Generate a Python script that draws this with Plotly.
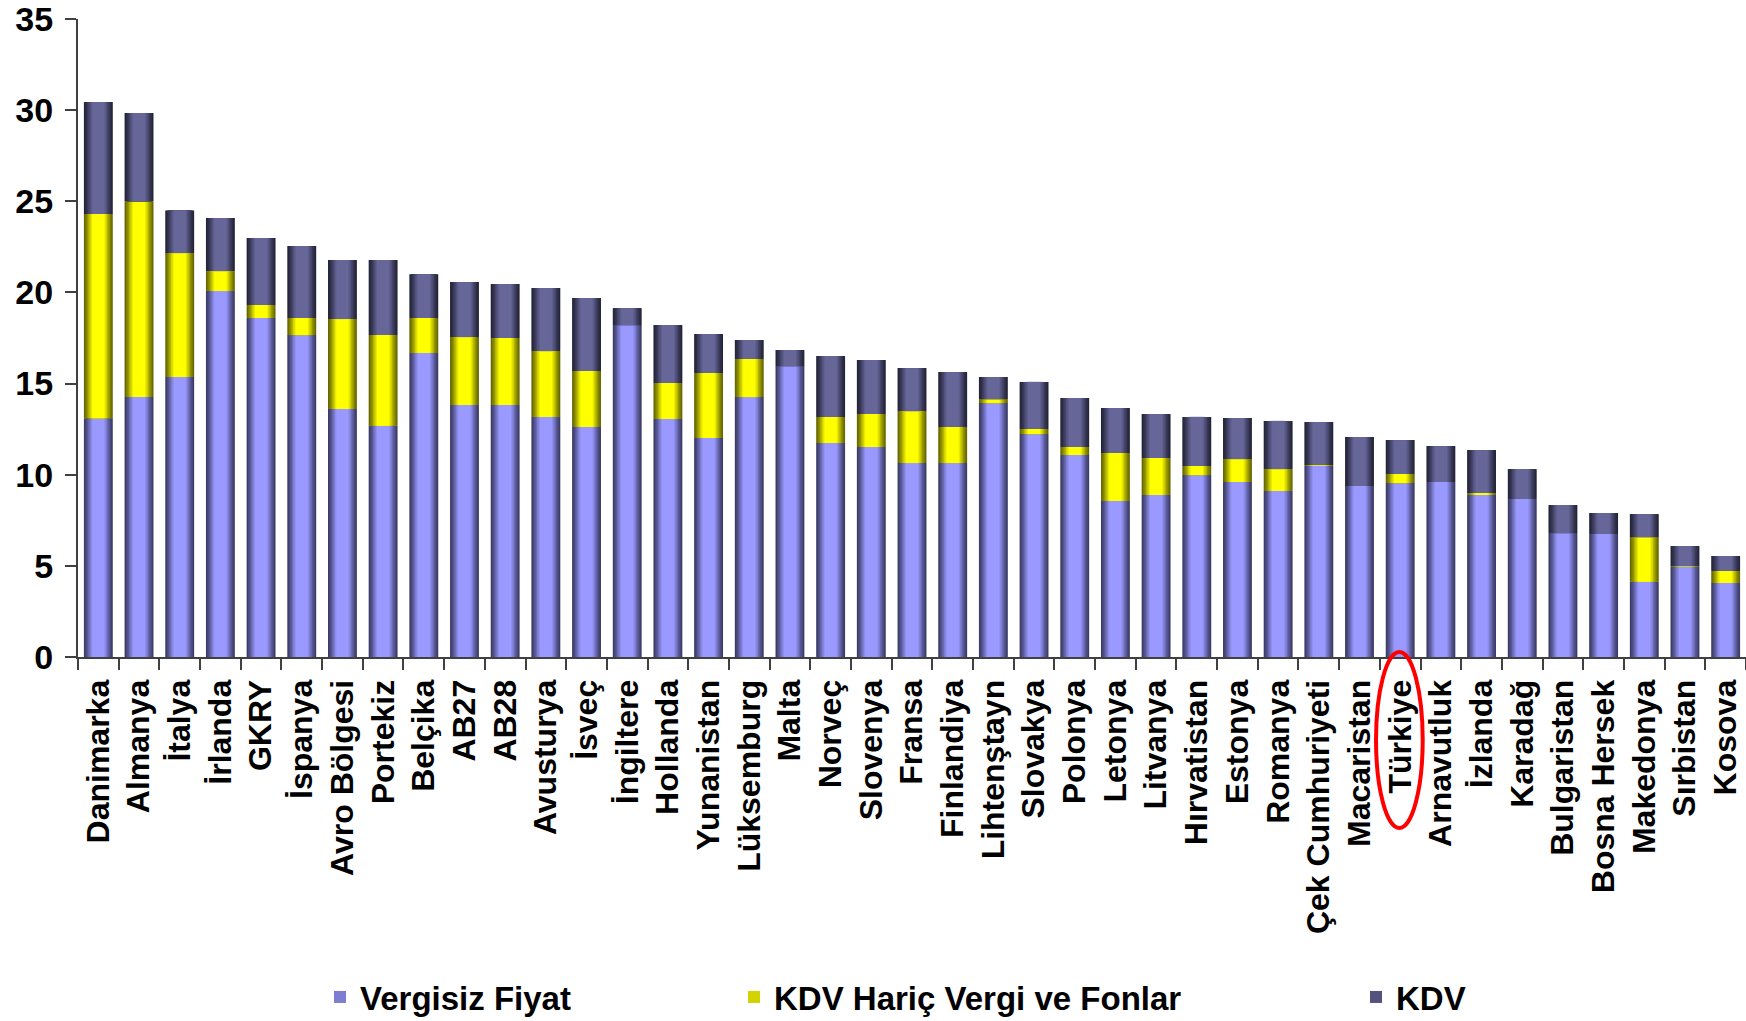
import plotly.graph_objects as go

countries = ["Danimarka", "Almanya", "İtalya", "İrlanda", "GKRY", "İspanya", "Avro Bölgesi",
             "Portekiz", "Belçika", "AB27", "AB28", "Avusturya", "İsveç", "İngiltere",
             "Hollanda", "Yunanistan", "Lüksemburg", "Malta", "Norveç", "Slovenya", "Fransa",
             "Finlandiya", "Lihtenştayn", "Slovakya", "Polonya", "Letonya", "Litvanya",
             "Hırvatistan", "Estonya", "Romanya", "Çek Cumhuriyeti", "Macaristan", "Türkiye",
             "Arnavutluk", "İzlanda", "Karadağ", "Bulgaristan", "Bosna Hersek", "Makedonya",
             "Sırbistan", "Kosova"]

vergisiz_fiyat = [13.10, 14.26, 15.36, 20.08, 18.60, 17.66, 13.60, 12.69, 16.68, 13.82, 13.82,
                  13.17, 12.62, 18.21, 13.06, 12.01, 14.26, 15.96, 11.74, 11.52, 10.64, 10.64,
                  13.93, 12.23, 11.08, 8.56, 8.89, 9.98, 9.60, 9.11, 10.48, 9.38, 9.54, 9.60,
                  8.89, 8.67, 6.80, 6.75, 4.13, 4.94, 4.06]

kdv_haric_vergi = [11.20, 10.74, 6.80, 1.09, 0.71, 0.94, 4.94, 4.97, 1.92, 3.73, 3.68, 3.61,
                   3.07, 0.00, 1.97, 3.57, 2.09, 0.00, 1.43, 1.81, 2.85, 1.98, 0.22, 0.28,
                   0.44, 2.63, 2.03, 0.50, 1.26, 1.20, 0.05, 0.00, 0.50, 0.00, 0.11, 0.00,
                   0.00, 0.00, 2.45, 0.05, 0.66]

kdv = [6.15, 4.84, 2.34, 2.91, 3.67, 3.95, 3.24, 4.12, 2.40, 3.02, 2.96, 3.46, 4.00, 0.93,
       3.18, 2.14, 1.04, 0.88, 3.34, 2.96, 2.36, 3.01, 1.21, 2.58, 2.69, 2.47, 2.41, 2.69,
       2.25, 2.64, 2.36, 2.69, 1.86, 1.97, 2.35, 1.64, 1.54, 1.15, 1.26, 1.10, 0.82]

series_names = ["Vergisiz Fiyat", "KDV Hariç Vergi ve Fonlar", "KDV"]
highlight = "Türkiye"

# colour ramps (edge -> centre) to imitate the cylinder shading
edge_colors = [(60, 60, 104), (104, 104, 0), (36, 36, 58)]
centre_colors = [(153, 153, 255), (255, 255, 0), (102, 102, 153)]
layer_widths = [0.71, 0.64, 0.57, 0.50, 0.43, 0.36, 0.30]
layer_t = [0.0, 0.15, 0.3, 0.5, 0.7, 0.87, 1.0]


def mix(c1, c2, t):
    return "rgb({},{},{})".format(*[round(a + (b - a) * t) for a, b in zip(c1, c2)])


FONT = "Liberation Sans, Arial, sans-serif"

bases = [
    [0.0] * len(countries),
    list(vergisiz_fiyat),
    [a + b for a, b in zip(vergisiz_fiyat, kdv_haric_vergi)],
]
values = [vergisiz_fiyat, kdv_haric_vergi, kdv]
legends = ["legend", "legend2", "legend3"]

fig = go.Figure()
for s in range(3):
    for li, (w, t) in enumerate(zip(layer_widths, layer_t)):
        fig.add_trace(go.Bar(
            x=countries, y=values[s], base=bases[s], width=w,
            name=series_names[s],
            marker=dict(color=mix(edge_colors[s], centre_colors[s], t), line=dict(width=0)),
            showlegend=(li == 4), legend=legends[s],
            hoverinfo="skip" if li != 0 else None,
        ))

N = len(countries)
idx = countries.index(highlight)
cx = (idx + 0.5) / N
fig.add_shape(type="circle", xref="paper", yref="paper",
              x0=cx - 0.0145, x1=cx + 0.0135, y0=0.008, y1=-0.268,
              line=dict(color="#ff0000", width=4))

fig.add_annotation(text="Kaynak: Eurostat", xref="paper", yref="paper",
                   x=-0.025, y=-0.560, xanchor="left", yanchor="top", showarrow=False,
                   font=dict(family=FONT, size=30, color="#222222"))

leg_common = dict(orientation="h", yref="container", yanchor="middle", y=1 - 997 / 1021,
                  xanchor="left", bgcolor="rgba(0,0,0,0)",
                  font=dict(family=FONT, size=33, color="#000000", weight="bold"))

fig.update_layout(
    width=1746, height=1021,
    margin=dict(l=78, r=0, t=19, b=364, autoexpand=False),
    paper_bgcolor="white", plot_bgcolor="white",
    barmode="overlay",
    legend=dict(x=(320 - 78) / 1668, **leg_common),
    legend2=dict(x=(734 - 78) / 1668, **leg_common),
    legend3=dict(x=(1356 - 78) / 1668, **leg_common),
    xaxis=dict(
        type="category", categoryorder="array", categoryarray=countries,
        tickangle=-90, tickson="boundaries", ticks="outside", ticklen=11, tickwidth=2,
        tickcolor="#404040", showline=True, linecolor="#404040", linewidth=2,
        showgrid=False, range=[-0.5, N - 0.5], automargin=False, ticklabelstandoff=8,
        ticklabeloverflow="allow",
        tickfont=dict(family=FONT, size=32, color="#000000", weight="bold"),
    ),
    yaxis=dict(
        range=[0, 35], dtick=5, tick0=0, ticks="outside", ticklen=11, tickwidth=2,
        tickcolor="#404040", showline=True, linecolor="#404040", linewidth=2,
        showgrid=False, zeroline=False, automargin=False, ticklabelstandoff=5,
        ticklabeloverflow="allow",
        tickfont=dict(family=FONT, size=34, color="#000000", weight="bold"),
    ),
)

fig.write_html("out.html", config={"displayModeBar": False},
               post_script="document.body.style.margin='0';document.body.style.overflow='hidden';")
